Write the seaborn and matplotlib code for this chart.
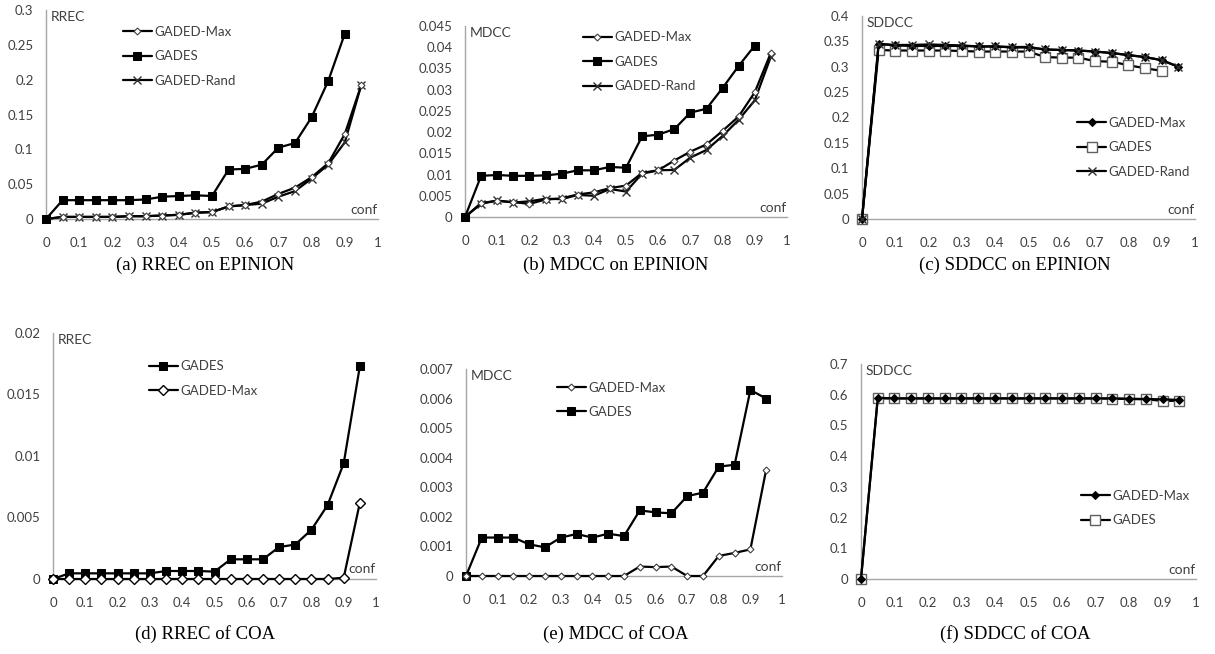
import numpy as np
import pandas as pd
import matplotlib
matplotlib.use("Agg")
import matplotlib.pyplot as plt
import seaborn as sns

sns.set_style("white")
plt.rcParams['font.family'] = ['Lato', 'DejaVu Sans']

conf = [0, 0.05, 0.1, 0.15, 0.2, 0.25, 0.3, 0.35, 0.4, 0.45, 0.5,
        0.55, 0.6, 0.65, 0.7, 0.75, 0.8, 0.85, 0.9, 0.95]
conf_gades_epinion = conf[:-1]

# (a) RREC on EPINION
rrec_ep_max = [0, 0.003, 0.003, 0.003, 0.003, 0.004, 0.004, 0.005, 0.006, 0.009, 0.010,
               0.018, 0.020, 0.025, 0.036, 0.045, 0.060, 0.080, 0.122, 0.193]
rrec_ep_gades = [0, 0.027, 0.027, 0.027, 0.027, 0.027, 0.028, 0.032, 0.033, 0.034, 0.033,
                 0.071, 0.072, 0.078, 0.1025, 0.109, 0.146, 0.198, 0.266]
rrec_ep_rand = [0, 0.003, 0.003, 0.003, 0.003, 0.004, 0.004, 0.005, 0.006, 0.009, 0.010,
                0.018, 0.020, 0.022, 0.032, 0.040, 0.058, 0.078, 0.110, 0.193]

# (b) MDCC on EPINION
mdcc_ep_max = [0, 0.0033, 0.0038, 0.0035, 0.0031, 0.0041, 0.0044, 0.0053, 0.0058, 0.0068, 0.0074,
               0.0104, 0.0110, 0.0133, 0.0154, 0.0171, 0.0203, 0.0237, 0.0294, 0.0387]
mdcc_ep_gades = [0, 0.0097, 0.0099, 0.0097, 0.0097, 0.0098, 0.0102, 0.0110, 0.0110, 0.0118, 0.0116,
                 0.0190, 0.0194, 0.0207, 0.0246, 0.0255, 0.0304, 0.0356, 0.0404]
mdcc_ep_rand = [0, 0.0031, 0.0039, 0.0034, 0.0037, 0.0043, 0.0042, 0.0052, 0.0050, 0.0066, 0.0060,
                0.0102, 0.0110, 0.0111, 0.0140, 0.0158, 0.0191, 0.0229, 0.0275, 0.0378]

# (c) SDDCC on EPINION
sddcc_ep_max = [0, 0.345, 0.342, 0.341, 0.341, 0.341, 0.341, 0.340, 0.340, 0.339, 0.339,
                0.334, 0.333, 0.332, 0.330, 0.327, 0.323, 0.319, 0.313, 0.300]
sddcc_ep_gades = [0, 0.333, 0.332, 0.332, 0.332, 0.332, 0.331, 0.330, 0.330, 0.330, 0.330,
                  0.319, 0.318, 0.318, 0.311, 0.310, 0.303, 0.297, 0.292]
sddcc_ep_rand = [0, 0.345, 0.343, 0.343, 0.344, 0.343, 0.342, 0.340, 0.340, 0.338, 0.338,
                 0.334, 0.333, 0.332, 0.330, 0.327, 0.323, 0.319, 0.313, 0.300]

# (d) RREC of COA
rrec_coa_gades = [0, 0.00046, 0.00046, 0.00046, 0.00046, 0.00046, 0.00046, 0.00065, 0.00065, 0.00065, 0.00060,
                  0.0016, 0.0016, 0.0016, 0.0026, 0.0028, 0.0040, 0.0060, 0.0094, 0.0173]
rrec_coa_max = [0, 0, 0, 0, 0, 0, 0, 0, 0, 0, 0,
                0, 0, 0, 0, 0, 0, 0, 0.0001, 0.0062]

# (e) MDCC of COA
mdcc_coa_max = [0, 0, 0, 0, 0, 0, 0, 0, 0, 0, 0,
                0.00032, 0.00030, 0.00032, 0, 0, 0.00068, 0.00078, 0.0009, 0.0036]
mdcc_coa_gades = [0, 0.0013, 0.0013, 0.0013, 0.00107, 0.00097, 0.0013, 0.00142, 0.0013, 0.00143, 0.00135,
                  0.00222, 0.00215, 0.00212, 0.0027, 0.00282, 0.0037, 0.00376, 0.00629, 0.0060]

# (f) SDDCC of COA
sddcc_coa_max = [0, 0.590, 0.588, 0.588, 0.588, 0.588, 0.588, 0.588, 0.588, 0.588, 0.588,
                 0.588, 0.588, 0.588, 0.588, 0.588, 0.587, 0.586, 0.585, 0.583]
sddcc_coa_gades = [0, 0.588, 0.588, 0.588, 0.588, 0.588, 0.588, 0.588, 0.588, 0.588, 0.588,
                   0.588, 0.588, 0.588, 0.588, 0.587, 0.586, 0.585, 0.580, 0.580]

captions = ["(a) RREC on EPINION", "(b) MDCC on EPINION", "(c) SDDCC on EPINION",
            "(d) RREC of COA", "(e) MDCC of COA", "(f) SDDCC of COA"]
ylabels = ["RREC", "MDCC", "SDDCC", "RREC", "MDCC", "SDDCC"]

W, H = 1215, 654
fig = plt.figure(figsize=(W / 100, H / 100), dpi=100)

def rect(l, r, t, b):
    return [l / W, (H - b) / H, (r - l) / W, (b - t) / H]

TXT = "#404040"
AX = "#a6a6a6"

# marker styles
M_MAX_OPEN = dict(marker="D", markersize=3.5, markerfacecolor="white", markeredgecolor="#404040", markeredgewidth=0.8)
M_MAX_OPEN_BIG = dict(marker="D", markersize=5, markerfacecolor="white", markeredgecolor="black", markeredgewidth=1.0)
M_MAX_FILL = dict(marker="D", markersize=4, markerfacecolor="black", markeredgecolor="black")
M_GADES_FILL = dict(marker="s", markersize=6, markerfacecolor="black", markeredgecolor="black")
M_GADES_OPEN = dict(marker="s", markersize=6.5, markerfacecolor="white", markeredgecolor="#606060", markeredgewidth=1.0)
M_RAND = dict(marker="x", markersize=6, markeredgecolor="#303030", markeredgewidth=1.0)

panels = [
    dict(r=rect(46, 378, 10, 219), ymax=0.3, ystep=0.05,
         series=[("GADED-Max", conf, rrec_ep_max, M_MAX_OPEN),
                 ("GADES", conf_gades_epinion, rrec_ep_gades, M_GADES_FILL),
                 ("GADED-Rand", conf, rrec_ep_rand, M_RAND)],
         draw_order=[2, 0, 1], leg=(0.215, 0.95), cap=(205, 265)),
    dict(r=rect(465, 787, 26, 217), ymax=0.045, ystep=0.005,
         series=[("GADED-Max", conf, mdcc_ep_max, M_MAX_OPEN),
                 ("GADES", conf_gades_epinion, mdcc_ep_gades, M_GADES_FILL),
                 ("GADED-Rand", conf, mdcc_ep_rand, M_RAND)],
         draw_order=[2, 0, 1], leg=(0.35, 1.0), cap=(616, 265)),
    dict(r=rect(862, 1195, 16, 219), ymax=0.4, ystep=0.05,
         series=[("GADED-Max", conf, sddcc_ep_max, M_MAX_FILL),
                 ("GADES", conf_gades_epinion, sddcc_ep_gades, M_GADES_OPEN),
                 ("GADED-Rand", conf, sddcc_ep_rand, M_RAND)],
         draw_order=[1, 0, 2], leg=(0.63, 0.53), cap=(1015, 265)),
    dict(r=rect(53, 376, 333, 579), ymax=0.02, ystep=0.005,
         series=[("GADES", conf, rrec_coa_gades, M_GADES_FILL),
                 ("GADED-Max", conf, rrec_coa_max, M_MAX_OPEN_BIG)],
         draw_order=[0, 1], leg=(0.28, 0.91), cap=(205, 634)),
    dict(r=rect(466, 782, 369, 576), ymax=0.007, ystep=0.001,
         series=[("GADED-Max", conf, mdcc_coa_max, M_MAX_OPEN),
                 ("GADES", conf, mdcc_coa_gades, M_GADES_FILL)],
         draw_order=[1, 0], leg=(0.27, 0.965), cap=(616, 634)),
    dict(r=rect(861, 1196, 364, 579), ymax=0.7, ystep=0.1,
         series=[("GADED-Max", conf, sddcc_coa_max, M_MAX_FILL),
                 ("GADES", conf, sddcc_coa_gades, M_GADES_OPEN)],
         draw_order=[1, 0], leg=(0.64, 0.44), cap=(1015, 634)),
]

for i, p in enumerate(panels):
    ax = fig.add_axes(p["r"])
    handles = {}
    for z, k in enumerate(p["draw_order"]):
        name, xs, ys, mk = p["series"][k]
        df = pd.DataFrame({"conf": xs, "val": ys})
        sns.lineplot(data=df, x="conf", y="val", ax=ax, color="black", linewidth=1.6,
                     sort=False, estimator=None, zorder=3 + z, clip_on=False, **mk)
        handles[k] = ax.lines[-1]
    ax.set_xlim(0, 1)
    ax.set_ylim(0, p["ymax"])
    xt = np.round(np.arange(0, 1.01, 0.1), 2)
    ax.set_xticks(xt)
    ax.set_xticklabels([f"{v:g}" for v in xt])
    yt = np.round(np.arange(0, p["ymax"] + p["ystep"] / 2, p["ystep"]), 4)
    ax.set_yticks(yt)
    ax.set_yticklabels([f"{v:g}" for v in yt])
    ax.set_xlabel("")
    ax.set_ylabel("")
    for s in ["top", "right"]:
        ax.spines[s].set_visible(False)
    for s in ["left", "bottom"]:
        ax.spines[s].set_color(AX)
        ax.spines[s].set_linewidth(1.0)
    ax.tick_params(axis="both", which="both", direction="out", length=4, width=1.0,
                   color=AX, labelcolor=TXT, labelsize=9.5)
    ax.tick_params(axis="x", pad=9)
    ax.tick_params(axis="y", pad=5)
    ax.set_facecolor("white")
    ax.text(0.015, 0.995, ylabels[i], transform=ax.transAxes, ha="left", va="top",
            fontsize=10, color=TXT)
    ax.text(1.0, 0.015, "conf", transform=ax.transAxes, ha="right", va="bottom",
            fontsize=10, color=TXT)
    order = list(range(len(p["series"])))
    ax.legend([handles[k] for k in order], [p["series"][k][0] for k in order],
              loc="upper left", bbox_to_anchor=p["leg"], frameon=False,
              fontsize=9.5, labelcolor=TXT, handlelength=2.2, handletextpad=0.2,
              labelspacing=0.95, borderaxespad=0)
    fig.text(p["cap"][0] / W, 1 - p["cap"][1] / H, captions[i], ha="center", va="center",
             fontsize=13.5, family="Liberation Serif", color="black")

fig.savefig("out.png", dpi=100, facecolor="white")
